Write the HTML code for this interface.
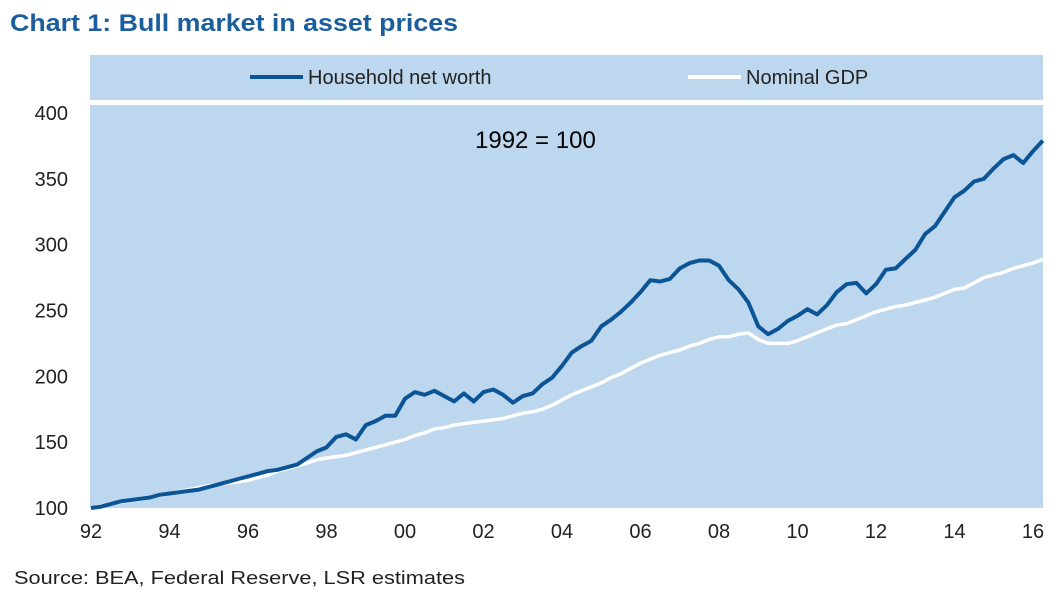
<!DOCTYPE html>
<html><head><meta charset="utf-8"><style>
body{margin:0;background:#fff;width:1059px;height:595px;overflow:hidden;font-family:"Liberation Sans",sans-serif}
</style></head><body>
<svg width="1059" height="595">
<text x="10" y="31" font-size="24" font-weight="bold" fill="#1b5e9e" textLength="448" lengthAdjust="spacingAndGlyphs" font-family="Liberation Sans,sans-serif">Chart 1: Bull market in asset prices</text>
<rect x="90" y="55" width="953" height="45" fill="#bdd7ee"/>
<g><line x1="250" y1="77" x2="303" y2="77" stroke="#0b5496" stroke-width="4"/><text x="308" y="84" font-size="20" fill="#222">Household net worth</text></g>
<g><line x1="688" y1="77" x2="741" y2="77" stroke="#fff" stroke-width="4"/><text x="746" y="84" font-size="20" fill="#222">Nominal GDP</text></g>
<rect x="90" y="105" width="953" height="403" fill="#bdd7ee"/>
<text x="475" y="148" font-size="24" fill="#000">1992 = 100</text>
<g id="yt"></g><g id="xt"></g><g id="series"></g>
<text x="14" y="584" font-size="18" fill="#222" textLength="451" lengthAdjust="spacingAndGlyphs">Source: BEA, Federal Reserve, LSR estimates</text>
</svg>
<script>
const yTicks=[100,150,200,250,300,350,400];
const xTickLabels=["92","94","96","98","00","02","04","06","08","10","12","14","16"];
const hnw=[100,101,103,105,106,107,108,110,111,112,113,114,116,118,120,122,124,126,128,129,131,133,138,143,146,154,156,152,163,166,170,170,183,188,186,189,185,181,187,181,188,190,186,180,185,187,194,199,208,218,223,227,238,243,249,256,264,273,272,274,282,286,288,288,284,273,266,256,238,232,236,242,246,251,247,254,264,270,271,263,270,281,282,289,296,308,314,325,336,341,348,350,358,365,368,362,371,379];
const gdp=[100,101.5,103,104.5,105.5,106.5,108,109.5,111,112.5,114,115.5,117,118,119,120,121,123,125,128,130,132,134,136.5,138,139,140,142,144,146,148,150,152,155,157,160,161,163,164,165,166,167,168,170,172,173,175,178,182,186,189,192,195,199,202,206,210,213,216,218,220,223,225,228,230,230,232,233,228,225,225,225,227,230,233,236,239,240,243,246,249,251,253,254,256,258,260,263,266,267,271,275,277,279,282,284,286,289];
const NS="http://www.w3.org/2000/svg";
const yS=v=>508-(v-100)*(395/300);
const xS=t=>91+t*39.25;
const yt=document.getElementById('yt');
yTicks.forEach(v=>{const t=document.createElementNS(NS,'text');t.setAttribute('x',68);t.setAttribute('y',yS(v)+7);t.setAttribute('text-anchor','end');t.setAttribute('font-size','20');t.setAttribute('fill','#222');t.textContent=v;


yt.appendChild(t);});
const xt=document.getElementById('xt');
xTickLabels.forEach((l,i)=>{const t=document.createElementNS(NS,'text');t.setAttribute('x',xS(i*2));t.setAttribute('y',538);t.setAttribute('text-anchor','middle');t.setAttribute('font-size','20');t.setAttribute('fill','#222');t.textContent=l;


xt.appendChild(t);});
const sg=document.getElementById('series');
function line(data,color,w,name){const p=document.createElementNS(NS,'path');
p.setAttribute('d',data.map((v,i)=>(i?'L':'M')+xS(i/4).toFixed(1)+','+yS(v).toFixed(1)).join(''));
p.setAttribute('fill','none');p.setAttribute('stroke',color);p.setAttribute('stroke-width',w);p.setAttribute('stroke-linejoin','round');


sg.appendChild(p);}
line(gdp,'#ffffff',3.5,'nominal-gdp-line');
line(hnw,'#0b5496',4,'household-net-worth-line');
</script>
</body></html>
